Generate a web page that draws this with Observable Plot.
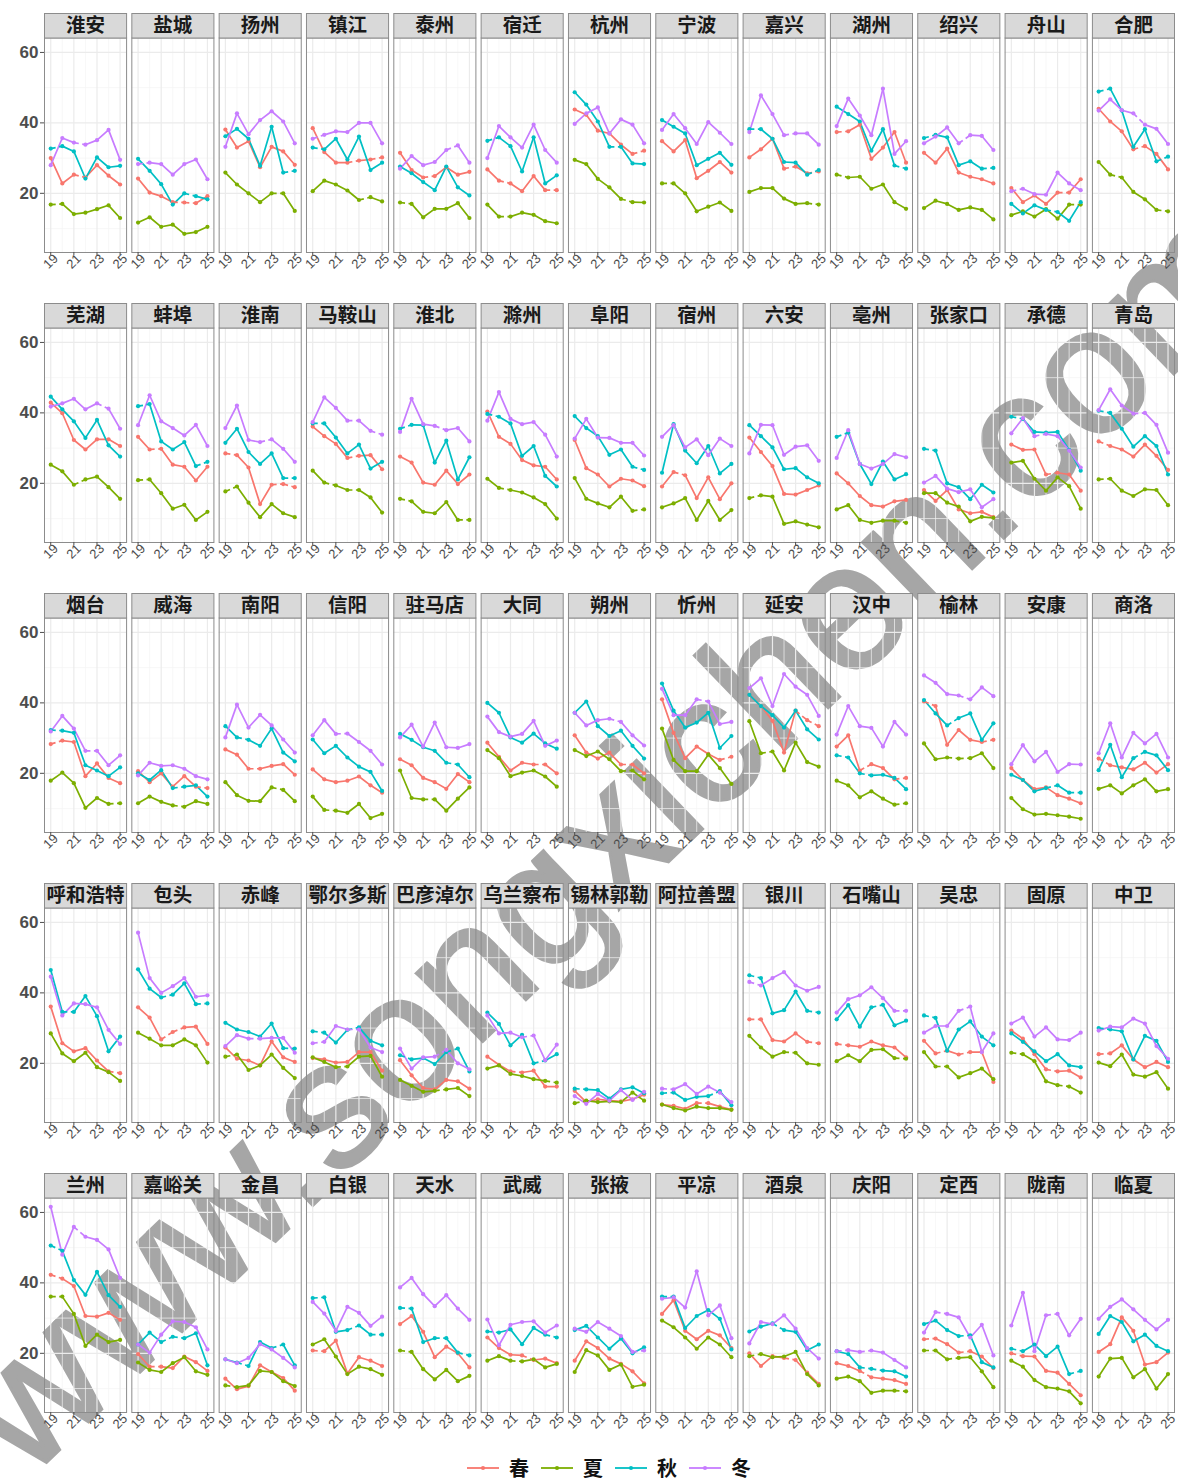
<!DOCTYPE html>
<html><head><meta charset="utf-8">
<script src="https://cdn.jsdelivr.net/npm/d3@7"></script>
<script src="https://cdn.jsdelivr.net/npm/@observablehq/plot@0.6"></script>
<style>
body{margin:0;background:#fff;}
#wrap{position:relative;width:1178px;height:1481px;overflow:hidden;background:#fff;}
#chart{position:absolute;left:0;top:0;z-index:2;}
#legend{position:absolute;z-index:2;left:20px;top:1456px;width:1178px;height:24px;line-height:24px;display:flex;justify-content:center;align-items:center;font-family:"Noto Sans CJK SC",sans-serif;font-weight:bold;font-size:20px;color:#111;}
#legend .item{display:flex;align-items:center;margin:0 6px;height:24px;}
#legend span{line-height:24px;}
#legend svg{margin-right:10px;}
#wm{position:absolute;z-index:1;left:607px;top:835px;transform:translate(-50%,-50%) rotate(-44deg);font-family:"Liberation Sans",Arial,sans-serif;font-size:180px;color:#A6A6A6;-webkit-text-stroke:3px #A6A6A6;white-space:nowrap;pointer-events:none;line-height:1;}
</style></head><body>
<div id="wrap"><div id="wm">www.songxichen.com</div><div id="chart"></div><div id="legend"></div></div>
<script>
const cities = ["淮安","盐城","扬州","镇江","泰州","宿迁","杭州","宁波","嘉兴","湖州","绍兴","舟山","合肥",
"芜湖","蚌埠","淮南","马鞍山","淮北","滁州","阜阳","宿州","六安","亳州","张家口","承德","青岛",
"烟台","威海","南阳","信阳","驻马店","大同","朔州","忻州","延安","汉中","榆林","安康","商洛",
"呼和浩特","包头","赤峰","鄂尔多斯","巴彦淖尔","乌兰察布","锡林郭勒","阿拉善盟","银川","石嘴山","吴忠","固原","中卫",
"兰州","嘉峪关","金昌","白银","天水","武威","张掖","平凉","酒泉","庆阳","定西","陇南","临夏"];
const years = [2019,2020,2021,2022,2023,2024,2025];
const tickYears = [2019,2021,2023,2025];
const tickLabels = ["19","21","23","25"];
const yTicks = [20,40,60];
const seasons = ["春","夏","秋","冬"];
const colors = ["#F8766D","#7CAE00","#00BFC4","#C77CFF"];

const spring = [
[30.0,22.8,25.3,24.5,28.0,25.0,22.5],[24.2,20.2,19.2,17.5,17.4,17.2,19.2],[38.1,33.0,34.8,27.4,33.2,31.9,28.1],[38.5,31.7,28.7,28.7,29.3,29.6,30.2],[31.5,26.6,24.5,24.9,27.4,25.3,26.1],[26.8,23.6,22.8,20.6,24.9,20.9,20.9],[43.8,42.3,37.8,37.0,33.8,31.2,32.1],[34.8,31.9,35.1,24.3,26.4,28.9,25.9],[30.2,32.5,35.5,27.0,27.6,25.7,26.2],[37.4,37.6,39.5,29.8,33.0,37.4,28.7],[31.5,28.7,32.7,25.9,24.7,24.0,22.8],[21.5,17.5,19.4,17.0,20.2,20.2,24.0],[44.0,40.4,37.6,32.5,33.4,31.2,26.8],
[42.9,39.9,32.3,29.6,32.5,32.5,30.6],[33.2,29.6,29.8,25.3,24.7,20.8,24.7],[28.5,28.0,24.5,14.1,19.6,19.8,18.9],[36.1,33.4,31.2,27.2,27.8,28.0,24.0],[27.6,25.9,20.2,19.6,23.6,19.8,22.5],[40.4,33.2,31.2,26.6,25.1,24.7,21.1],[32.3,24.3,22.5,19.1,21.3,20.8,19.2],[19.1,23.2,22.3,15.8,21.7,15.5,20.0],[33.0,28.9,24.9,17.0,16.8,18.1,19.4],[22.8,20.0,16.4,13.8,13.4,14.9,15.3],[18.1,15.0,18.1,12.6,11.5,11.9,10.4],[31.0,29.5,29.6,22.5,23.0,22.5,17.9],[31.9,30.6,29.6,27.6,31.0,27.8,23.8],
[28.3,29.3,28.9,19.2,22.8,18.7,17.2],[20.6,17.5,20.0,16.2,19.2,16.2,15.8],[26.8,25.3,21.3,21.3,22.1,22.6,19.6],[21.1,18.3,17.5,17.9,19.1,16.6,14.5],[24.0,22.3,18.7,17.5,15.6,19.8,17.5],[28.7,24.7,20.8,23.0,22.5,22.5,20.0],[30.8,25.9,24.2,25.9,22.5,22.5,20.0],[41.0,31.5,24.3,27.6,25.5,23.8,24.7],[42.3,39.1,34.9,25.9,37.8,35.1,33.4],[27.6,30.8,20.8,22.6,21.5,18.3,18.7],[40.4,39.1,28.1,32.3,29.5,28.9,29.5],[21.5,18.1,15.5,16.0,13.8,12.8,11.5],[24.2,22.3,21.7,21.1,23.0,20.2,22.6],
[36.1,25.7,23.4,24.3,20.8,17.7,17.2],[35.9,33.0,26.8,28.9,30.2,30.4,25.5],[24.5,21.3,20.8,19.4,26.2,21.7,20.4],[21.5,21.1,20.2,20.4,23.2,23.2,17.9],[20.9,16.6,13.0,12.6,15.3,14.9,12.8],[21.9,19.6,17.7,17.4,17.9,13.4,13.4],[12.2,9.0,9.8,9.4,9.2,9.8,11.1],[8.3,7.9,7.1,8.7,8.7,7.7,6.9],[32.5,32.5,26.6,26.2,28.5,26.1,25.7],[25.5,25.1,24.7,26.2,25.1,24.5,21.7],[26.4,22.8,23.6,22.5,23.2,23.2,14.7],[29.3,27.0,22.6,18.3,17.7,17.9,16.0],[22.6,22.8,25.1,21.1,18.9,20.4,18.9],
[42.3,41.2,39.1,30.6,30.4,31.5,29.5],[19.8,16.2,16.2,15.8,19.1,17.5,15.0],[12.8,9.8,10.7,16.6,14.7,13.0,9.4],[20.8,20.6,23.6,14.3,18.9,17.9,16.4],[28.3,30.6,26.1,18.9,21.9,20.0,16.0],[24.5,21.5,19.6,19.4,18.1,18.5,17.2],[17.9,23.4,21.5,18.5,17.0,14.9,11.5],[31.2,35.1,26.4,24.0,26.4,25.1,21.5],[20.0,16.4,19.2,18.7,18.1,14.5,11.3],[17.2,16.4,15.0,13.2,12.8,12.4,11.3],[24.0,24.2,22.6,20.2,20.6,19.1,15.8],[20.0,19.2,19.1,15.0,14.5,11.3,8.1],[20.4,22.6,30.2,26.4,16.8,17.5,20.2]];
const springDash = ["001000","000110","000000","000101","001000","010001","000001","000000","000101","100000","000000","000010","000100",
"000000","010000","100011","000100","000000","000000","000000","010000","000000","000000","000000","000100","100000",
"100000","000001","001000","000000","000000","000010","000010","000001","000011","001001","100001","000000","100000",
"000001","001100","000000","000000","000000","001000","000000","000100","100001","100000","010100","000100","100000",
"100000","010000","000000","100000","000000","000100","000000","000000","000100","001000","100100","100000","000000"];

const summer = [
[16.8,17.0,14.1,14.5,15.5,16.6,13.0],[11.7,13.2,10.5,11.1,8.5,9.0,10.5],[25.9,22.5,20.0,17.5,20.0,20.0,15.0],[20.6,23.6,22.5,20.8,18.1,18.9,17.7],[17.4,17.0,13.2,15.6,15.6,17.2,13.0],[16.8,13.4,13.4,14.5,13.9,12.1,11.5],[29.5,28.3,24.1,21.7,18.4,17.5,17.4],[22.8,22.8,20.0,14.9,16.2,17.4,15.0],[20.4,21.5,21.5,18.5,17.0,17.2,16.8],[25.3,24.5,24.7,21.3,22.5,17.5,15.6],[15.8,17.9,17.0,15.3,16.0,15.3,12.6],[13.8,14.9,13.4,15.5,12.8,16.8,16.8],[28.9,25.3,24.5,20.4,18.3,15.3,14.9],
[25.3,23.4,19.6,21.1,21.9,18.9,15.6],[20.9,21.1,17.2,12.8,13.9,9.6,11.9],[17.7,19.1,14.5,10.4,14.1,11.5,10.4],[23.6,20.2,19.4,18.1,18.1,16.0,11.7],[15.6,14.9,11.9,11.5,14.7,9.6,9.6],[21.3,18.7,18.1,17.4,16.0,14.1,10.0],[21.5,15.6,14.3,13.2,16.2,12.2,12.6],[13.2,14.3,15.8,9.6,15.0,9.6,12.4],[15.8,16.6,16.2,8.5,9.2,8.3,7.5],[12.6,13.8,9.6,8.8,9.4,9.4,8.8],[17.2,17.2,14.5,13.4,9.2,10.5,10.2],[25.9,26.4,21.3,17.9,21.7,19.2,12.8],[21.1,21.3,17.9,16.4,18.3,18.1,13.8],
[17.9,20.2,17.2,10.2,13.0,11.3,11.5],[11.5,13.4,11.9,10.9,10.5,12.1,11.3],[17.5,13.8,12.2,12.1,16.0,15.3,12.1],[13.4,9.6,9.4,8.8,11.3,7.3,8.5],[20.8,13.0,12.6,12.6,9.4,12.8,16.0],[26.6,24.3,19.2,20.2,20.8,19.1,16.2],[26.6,24.9,26.2,24.0,20.6,20.8,18.3],[32.7,23.8,20.6,20.6,25.3,21.5,17.0],[34.8,25.7,26.2,20.8,28.7,23.2,21.9],[17.9,16.6,13.2,14.9,12.8,11.1,11.5],[28.5,24.0,24.5,24.2,24.3,25.7,21.5],[13.0,9.8,8.3,8.5,8.1,7.7,7.1],[15.6,16.6,14.3,16.6,18.3,14.9,15.5],
[28.5,22.8,20.6,23.0,18.9,17.5,15.0],[28.7,27.0,25.1,25.1,26.8,25.1,20.2],[21.9,22.5,18.1,19.4,22.5,18.7,15.8],[21.7,20.4,18.9,19.1,21.9,22.1,16.2],[15.3,13.6,11.9,12.2,12.6,13.0,10.7],[18.5,19.4,17.0,16.4,15.5,15.0,14.5],[8.7,9.4,9.0,9.2,9.0,11.7,9.4],[8.3,7.3,6.6,7.7,7.3,7.3,6.8],[27.8,24.5,21.9,23.2,23.0,20.0,19.6],[20.6,22.3,20.6,23.8,24.0,21.5,21.3],[23.2,19.1,19.1,16.0,17.2,18.5,15.5],[23.0,22.6,20.6,14.9,13.8,13.4,11.7],[20.2,19.2,22.5,16.8,16.2,17.5,12.8],
[36.1,36.1,31.2,22.1,25.3,23.2,23.8],[17.4,15.3,14.7,17.2,18.9,14.9,13.9],[10.9,10.4,10.9,15.0,14.7,12.1,10.7],[22.5,24.0,19.1,14.1,16.2,15.5,13.9],[20.8,20.4,15.5,12.6,15.3,12.1,13.6],[17.9,19.2,17.9,17.7,18.3,16.0,17.0],[14.7,20.9,19.4,15.3,16.8,10.5,11.1],[29.3,27.4,24.5,21.3,24.5,22.5,18.9],[19.2,19.8,18.9,19.1,20.4,14.1,10.9],[12.8,13.4,12.1,8.8,9.4,9.4,9.2],[20.8,20.8,18.3,18.7,18.9,14.9,10.4],[17.9,16.2,12.4,10.4,10.0,9.2,5.8],[13.4,18.5,18.7,13.2,15.5,10.0,14.1]];
const summerDash = ["100000","000000","000010","000010","100000","010000","000010","100000","000001","100000","000000","000001","010001",
"001000","100000","100000","010100","100001","010000","000001","000000","100000","000001","000000","000000","100000",
"000001","000100","000010","010000","001000","000000","000010","000000","010000","000001","001100","000000","000000",
"000000","000000","100000","001000","000100","000001","100000","000000","000100","000001","010000","100010","000000",
"100000","000000","100000","000000","100000","001000","000000","000000","100000","000001","101000","000000","000000"];

const autumn = [
[32.7,33.4,31.9,24.2,30.2,27.4,27.8],[29.8,26.4,22.6,16.8,20.0,19.2,18.3],[36.2,38.3,35.5,27.8,38.9,25.9,26.4],[33.0,32.5,35.5,29.6,36.1,26.6,28.7],[27.6,25.7,23.2,20.9,27.6,21.7,19.4],[34.9,35.9,33.4,26.2,35.9,22.8,25.1],[48.7,45.2,40.4,33.2,33.2,28.5,28.3],[40.8,38.9,37.0,28.0,29.8,31.5,28.1],[38.2,38.2,35.5,28.9,28.7,25.3,26.6],[44.6,42.5,40.4,32.1,38.2,27.9,27.0],[35.7,36.6,35.9,28.0,29.1,27.0,27.2],[17.0,14.3,16.6,15.3,14.7,12.2,17.5],[48.9,49.7,43.5,33.2,38.2,29.1,30.4],
[44.6,41.0,37.6,32.9,38.0,30.8,27.6],[41.9,42.5,31.9,29.6,31.7,24.9,26.1],[31.5,35.5,28.9,25.5,28.5,21.5,21.5],[37.0,37.0,33.0,28.5,31.0,24.2,26.1],[35.5,36.6,36.5,25.9,32.1,21.1,27.4],[39.7,38.9,37.0,27.8,30.6,22.1,19.1],[39.1,35.7,33.4,28.1,29.6,24.7,23.8],[23.0,36.8,29.3,25.7,30.6,22.8,25.5],[36.5,33.4,30.2,24.0,24.3,21.7,20.0],[33.2,34.4,25.5,19.8,26.2,21.1,22.6],[29.8,29.3,20.0,18.9,15.5,19.6,17.4],[38.9,38.3,34.6,34.4,34.6,29.5,23.6],[40.6,40.0,35.5,30.4,33.4,30.6,22.5],
[32.3,32.1,31.5,22.3,20.8,19.2,21.7],[20.0,18.1,20.9,15.8,16.2,16.6,13.4],[33.4,30.2,29.5,27.8,32.7,25.9,23.4],[29.6,25.7,27.8,24.5,21.9,20.4,15.0],[31.2,29.5,27.4,26.4,23.0,22.5,18.9],[40.0,37.2,30.2,28.7,31.3,28.5,27.0],[37.2,40.4,33.4,30.6,32.1,27.8,24.2],[45.5,37.8,33.0,34.4,37.2,27.2,30.6],[42.3,39.1,36.5,33.0,37.8,32.5,29.6],[25.1,24.5,20.0,19.4,19.6,18.7,15.5],[40.8,37.0,33.6,35.7,37.0,29.5,34.2],[19.6,18.1,14.9,15.8,16.6,14.5,14.5],[20.9,28.1,18.9,24.3,26.1,25.1,20.9],
[46.5,34.6,34.6,39.1,33.4,23.4,27.6],[46.7,41.2,38.7,39.5,42.7,36.8,37.0],[31.5,29.6,28.9,27.6,31.3,24.3,24.2],[29.1,28.7,25.9,29.5,30.2,26.4,25.1],[22.3,21.1,21.5,19.8,23.2,24.2,17.7],[34.4,31.2,25.1,28.1,20.0,20.8,22.6],[12.8,12.6,12.4,10.0,12.6,13.2,11.5],[11.5,11.7,9.6,10.5,10.7,12.1,8.1],[45.0,44.2,34.2,35.1,40.4,34.9,34.4],[32.5,36.5,30.4,35.9,36.6,30.8,32.1],[33.6,32.9,23.6,29.6,31.9,27.6,25.1],[28.5,26.1,23.4,20.6,22.6,19.4,18.9],[30.0,29.6,29.1,21.1,27.8,26.4,20.4],
[50.6,49.1,40.8,36.6,43.1,36.5,33.2],[22.5,25.9,23.2,24.7,24.3,25.7,16.6],[18.3,17.4,16.4,23.2,21.5,22.5,16.6],[35.7,35.9,26.1,26.6,27.9,25.3,25.3],[32.9,32.7,23.2,24.3,24.3,20.2,19.4],[26.2,25.9,26.8,22.6,27.2,25.3,24.5],[26.6,27.8,24.5,21.3,24.2,20.0,21.7],[36.1,36.1,27.2,30.6,32.3,29.8,21.1],[26.2,27.6,28.5,26.6,26.1,20.9,22.5],[20.6,19.8,16.0,15.6,15.1,14.9,13.4],[28.3,29.3,26.6,24.9,25.1,17.5,16.0],[21.3,20.6,22.5,19.2,21.9,14.1,15.0],[25.5,30.6,28.9,23.4,25.3,22.1,20.6]];
const autumnDash = ["100000","000010","000001","100000","000000","100000","000100","000000","100001","000001","100001","000100","100001",
"000000","100001","000001","100000","100000","100000","000001","000000","000000","100000","100000","100000","100000",
"100000","000100","010000","000000","000010","000000","000000","000000","000000","101000","001000","000101","000100",
"010000","001001","000001","100100","100010","000010","100000","100010","100001","000100","100000","000000","100000",
"100000","001100","010010","100101","100101","100001","000000","100000","001000","001100","000100","100001","000000"];

const winter = [
[28.0,35.7,34.4,33.8,35.1,38.0,29.5],[28.3,28.7,28.3,25.3,28.3,29.6,24.0],[33.2,42.7,36.8,40.8,43.3,40.4,34.2],[35.5,36.6,37.6,37.4,40.0,40.0,34.2],[27.0,30.6,28.0,28.9,32.3,33.6,28.7],[30.0,39.1,35.9,33.0,39.5,32.3,28.7],[39.7,42.7,44.4,37.0,41.0,39.5,34.2],[38.0,42.5,38.5,34.0,40.2,37.2,34.0],[37.4,47.8,42.5,36.5,37.0,37.0,33.8],[39.1,46.9,42.1,36.5,49.7,31.2,34.8],[34.2,36.1,38.7,34.2,36.5,36.3,32.3],[20.6,21.3,19.8,19.6,25.9,22.8,20.9],[43.5,46.7,43.6,42.7,39.5,38.3,34.0],
[41.8,42.7,44.0,41.0,42.7,41.2,35.5],[36.5,45.0,37.6,35.7,33.6,36.6,30.6],[35.7,42.1,32.3,31.7,32.5,29.8,26.1],[37.4,44.4,41.4,37.8,37.8,34.9,33.8],[34.6,44.0,36.8,36.3,35.1,35.7,31.9],[37.8,45.9,38.3,36.8,37.4,33.8,27.6],[32.7,38.3,33.0,32.9,31.5,31.5,27.9],[33.2,36.5,30.2,32.5,28.0,32.7,30.6],[28.5,36.6,36.5,28.1,30.4,30.8,26.4],[27.2,35.1,25.5,24.2,25.5,28.3,27.4],[20.2,22.1,18.5,17.5,18.3,13.2,15.5],[34.2,38.5,33.4,34.0,33.4,29.3,24.5],[40.8,46.7,42.1,39.8,40.0,36.6,28.7],
[31.9,36.3,32.7,26.4,26.4,22.3,25.1],[19.4,23.0,22.1,22.3,21.3,19.2,18.3],[30.2,39.5,33.0,36.6,33.6,29.6,25.9],[30.8,35.1,31.2,31.3,28.9,26.4,22.5],[30.2,33.8,27.6,34.4,27.4,27.2,28.3],[36.1,31.7,30.4,31.2,34.9,27.8,29.3],[37.2,33.6,35.1,35.5,34.6,30.8,27.9],[44.0,36.5,36.5,41.0,40.4,34.0,34.6],[44.2,47.0,39.1,48.2,44.6,42.3,36.3],[31.0,39.1,33.4,32.9,27.6,34.6,31.0],[47.8,45.7,42.5,42.1,41.0,44.4,41.9],[22.6,28.0,23.4,26.1,20.4,22.6,22.5],[25.7,34.2,24.5,31.5,28.5,31.2,24.5],
[44.6,33.6,37.0,36.8,35.9,29.5,25.5],[57.1,44.2,40.0,41.9,44.2,38.9,39.3],[24.9,28.0,27.0,27.0,27.2,27.2,23.0],[25.7,26.1,30.6,29.6,29.6,24.5,23.2],[24.2,18.5,21.7,21.9,23.8,20.0,18.3],[33.6,28.5,28.7,27.4,27.9,20.9,25.3],[10.7,8.5,11.3,9.4,12.4,9.6,11.9],[12.8,12.6,14.1,11.3,13.4,11.7,9.0],[43.1,42.1,44.2,45.9,42.1,40.6,41.7],[34.4,38.2,39.3,41.6,38.5,34.9,34.9],[28.7,30.6,30.6,34.9,36.1,23.2,28.5],[31.3,33.0,27.6,30.2,26.8,26.6,28.7],[29.3,30.4,30.2,32.7,31.3,24.9,21.3],
[61.6,48.0,55.9,53.1,52.2,49.5,41.4],[22.5,20.2,25.3,29.1,28.9,27.4,21.1],[18.3,17.2,18.7,22.6,21.1,18.7,16.0],[34.6,31.3,26.4,33.2,31.5,27.8,30.4],[38.7,41.4,36.8,33.4,36.5,32.7,29.5],[29.6,22.3,28.1,28.9,29.1,25.9,27.9],[27.0,26.1,28.9,27.0,24.9,20.4,20.8],[35.5,35.9,33.0,43.3,30.8,33.6,24.3],[22.8,28.9,28.3,30.8,27.0,21.5,18.5],[20.6,20.9,20.4,20.8,20.2,18.1,16.0],[25.9,31.7,31.2,30.2,24.5,28.1,19.4],[27.9,37.2,20.6,30.8,31.2,25.1,29.8],[29.8,33.2,35.3,32.5,29.5,26.8,29.5]];
const winterDash = ["001000","100000","000000","100000","000010","000000","000000","000000","000100","000000","000100","100000","000100",
"000010","000000","000100","000101","000100","000000","000000","000000","000000","000000","000000","001000","000100",
"000100","000000","000000","001000","000000","000000","000100","000100","000000","000000","000100","000000","000000",
"000000","000000","001000","100100","000100","000100","000000","100000","100000","000001","000100","000000","000000",
"001000","000000","000000","000000","000000","000000","000001","000000","000000","101000","010000","000100","000000"];

const seriesValues = [spring, summer, autumn, winter];
const seriesDash = [springDash, summerDash, autumnDash, winterDash];
const NCOL = 13, NROW = 5;

const points = [], segments = [];
cities.forEach((city, i) => {
  const col = i % NCOL, row = Math.floor(i / NCOL);
  seasons.forEach((season, s) => {
    const vals = seriesValues[s][i], dash = seriesDash[s][i];
    vals.forEach((v, j) => {
      points.push({city, col, row, season, year: years[j], value: v});
      if (j < vals.length - 1) segments.push({col, row, season, x1: years[j], y1: v, x2: years[j+1], y2: vals[j+1], dashed: dash[j] === "1"});
    });
  });
});
const strips = cities.map((city, i) => ({city, col: i % NCOL, row: Math.floor(i / NCOL)}));

const W = 1178, MT = 37.5, ML = 44, MR = 4, MB = 34;
const STEP_Y = 290, PANEL_H = 214.5;
const padY = (STEP_Y - PANEL_H) / STEP_Y;
const H = MT + STEP_Y * (NROW - padY) + MB;
const STRIP_H = 24.5;
const border = "#8C8C8C";

const chart = Plot.plot({
  width: W, height: H,
  marginTop: MT, marginLeft: ML, marginRight: MR, marginBottom: MB,
  facet: {marginTop: 0, marginBottom: 0, marginLeft: 0, marginRight: 0},
  fx: {domain: d3.range(NCOL), paddingInner: 0.06, paddingOuter: 0, round: false, axis: null},
  fy: {domain: d3.range(NROW), paddingInner: padY, paddingOuter: 0, round: false, axis: null},
  x: {domain: [2018.46, 2025.56]},
  y: {domain: [3.2, 64.1]},
  color: {domain: seasons, range: colors},
  style: {fontFamily: "Liberation Sans, Arial, sans-serif", background: "transparent"},
  marks: [
    Plot.ruleY([10,30,50], {stroke: "#F3F3F3", strokeWidth: 0.7}),
    Plot.ruleX([2020,2022,2024], {stroke: "#F3F3F3", strokeWidth: 0.7}),
    Plot.ruleY(yTicks, {stroke: "#EBEBEB", strokeWidth: 1.2}),
    Plot.ruleX(tickYears, {stroke: "#EBEBEB", strokeWidth: 1.2}),
    Plot.link(segments.filter(d => !d.dashed), {x1: "x1", y1: "y1", x2: "x2", y2: "y2", fx: "col", fy: "row", stroke: "season", strokeWidth: 1.7, strokeLinecap: "round"}),
    Plot.link(segments.filter(d => d.dashed), {x1: "x1", y1: "y1", x2: "x2", y2: "y2", fx: "col", fy: "row", stroke: "season", strokeWidth: 1.7, strokeDasharray: "5,3.5"}),
    Plot.dot(points, {x: "year", y: "value", fx: "col", fy: "row", fill: "season", r: 2.1, stroke: null}),
    Plot.frame({stroke: border, strokeWidth: 1}),
    Plot.frame({insetTop: -STRIP_H, insetBottom: PANEL_H, fill: "#D9D9D9", stroke: border, strokeWidth: 1}),
    Plot.text(strips, {fx: "col", fy: "row", text: "city", frameAnchor: "top", dy: -STRIP_H / 2, fontSize: 19.5, fontWeight: "bold", fill: "#1A1A1A", fontFamily: "Noto Sans CJK SC, sans-serif", lineAnchor: "middle"}),
    Plot.axisY({ticks: yTicks, tickSize: 4, tickPadding: 2, fontSize: 17, fontWeight: "bold", color: "#4D4D4D", label: null}),
    Plot.axisX({ticks: tickYears, tickFormat: d => tickLabels[tickYears.indexOf(d)], facetAnchor: null, tickSize: 3, tickPadding: 6, tickRotate: -45, textAnchor: "middle", lineAnchor: "middle", dx: 0, fontSize: 13, color: "#4D4D4D", label: null})
  ]
});
document.getElementById("chart").appendChild(chart);

const legend = document.getElementById("legend");
seasons.forEach((s, i) => {
  const item = document.createElement("div");
  item.className = "item";
  item.innerHTML = `<svg width="32" height="10"><line x1="0" y1="5" x2="32" y2="5" stroke="${colors[i]}" stroke-width="1.8"/><circle cx="16" cy="5" r="2.1" fill="${colors[i]}"/></svg><span>${s}</span>`;
  legend.appendChild(item);
});
</script>
</body></html>
